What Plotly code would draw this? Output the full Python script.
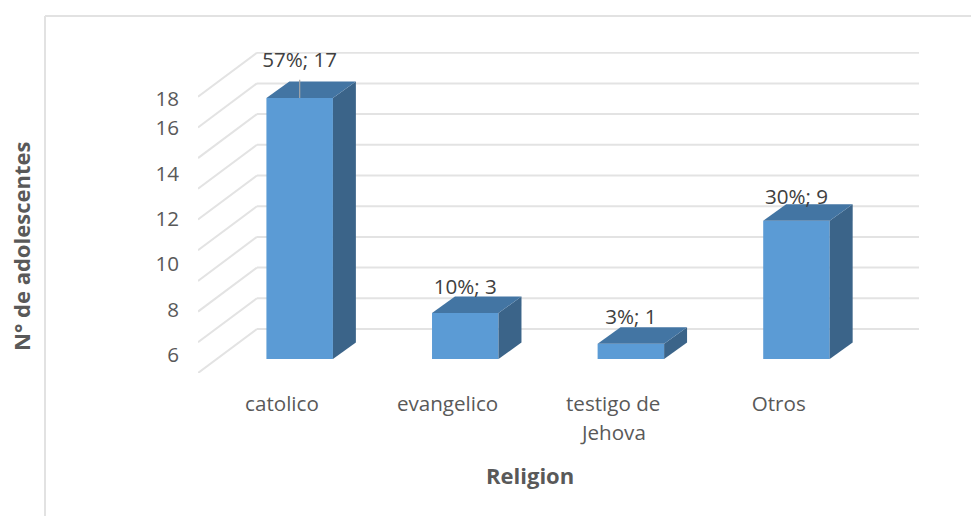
import plotly.graph_objects as go

categories = ["catolico", "evangelico", "testigo de", "Otros"]
category_second_line = ["", "", "Jehova", ""]
values = [17, 3, 1, 9]
shares = ["57%", "10%", "3%", "30%"]
label_lift = [2.35, 1.56, 1.63, 1.43]

grid_values = [0, 2, 4, 6, 8, 10, 12, 14, 16, 18]
tick_text = ["6", "8", "10", "12", "14", "16", "18"]
tick_pos = [0.26, 3.19, 6.19, 9.12, 12.05, 15.05, 16.94]

FONT = "Open Sans"
TEXT = "#595959"
GRID = "#E3E3E3"
FRONT = "#5B9BD5"
TOP = "#4375A3"
SIDE = "#3B6489"

W, H = 972, 516
L, R, T, B = 198, 919, 52, 373
XR = [-0.614, 3.740]
YR = [-0.912, 20.0]
BAR_W = 0.4016
DX, DY = 0.1386, 1.075      # bar depth
WALL_DX, WALL_DY = 0.356, 2.866  # floor depth
LABEL_SHIFT = 0.107


def px(x):
    return (x - L) / (R - L)


def py(y):
    return 1 - (y - T) / (B - T)


x = list(range(len(values)))
fig = go.Figure()

fig.add_trace(go.Bar(x=x, y=values, width=BAR_W, marker=dict(color=FRONT, line=dict(width=0)),
                     showlegend=False, hoverinfo="skip"))

for xi, v in zip(x, values):
    xr = xi + BAR_W / 2
    xl = xi - BAR_W / 2
    fig.add_trace(go.Scatter(x=[xr, xr + DX, xr + DX, xr, xr], y=[0, DY, v + DY, v, 0],
                             mode="lines", fill="toself", fillcolor=SIDE, line=dict(width=0),
                             showlegend=False, hoverinfo="skip"))
    fig.add_trace(go.Scatter(x=[xl, xl + DX, xr + DX, xr, xl], y=[v, v + DY, v + DY, v, v],
                             mode="lines", fill="toself", fillcolor=TOP, line=dict(width=0),
                             showlegend=False, hoverinfo="skip"))

# leader line of the first label
fig.add_trace(go.Scatter(x=[x[0], x[0]], y=[values[0], values[0] + 1.2], mode="lines",
                         line=dict(color="#A6A6A6", width=1.2), showlegend=False, hoverinfo="skip"))

fig.add_trace(go.Scatter(
    x=x, y=[v + l for v, l in zip(values, label_lift)],
    text=[f"{s}; {v}" for s, v in zip(shares, values)],
    mode="text", textposition="middle center", cliponaxis=False,
    textfont=dict(family=FONT, size=20.6, color="#404040"),
    showlegend=False, hoverinfo="skip"))

shapes = []
for v in grid_values:
    back = v + WALL_DY + YR[0]
    shapes.append(dict(type="line", layer="below", x0=XR[0], x1=XR[0] + WALL_DX, y0=v + YR[0], y1=back,
                       xref="x", yref="y", line=dict(color=GRID, width=2)))
    shapes.append(dict(type="line", layer="below", x0=XR[0] + WALL_DX, x1=XR[1], y0=back, y1=back,
                       xref="x", yref="y", line=dict(color=GRID, width=2)))
# chart frame
shapes.append(dict(type="line", layer="below", xref="paper", yref="paper", x0=px(45), x1=px(971),
                   y0=py(16), y1=py(16), line=dict(color="#E2E2E2", width=2)))
shapes.append(dict(type="line", layer="below", xref="paper", yref="paper", x0=px(45), x1=px(45),
                   y0=py(16), y1=py(516), line=dict(color="#E2E2E2", width=2)))

annotations = [
    dict(text="<b>Religion</b>", x=px(530), y=py(475), xref="paper", yref="paper", showarrow=False,
         xanchor="center", yanchor="middle", font=dict(family=FONT, size=22, color=TEXT)),
    dict(text="<b>N° de adolescentes</b>", x=px(21), y=py(247), xref="paper", yref="paper", showarrow=False,
         xanchor="center", yanchor="middle", textangle=-90, font=dict(family=FONT, size=22, color=TEXT)),
]
for xi, second in zip(x, category_second_line):
    if second:
        annotations.append(dict(text=second, x=xi - LABEL_SHIFT, y=py(432), xref="x", yref="paper",
                                showarrow=False, xanchor="center", yanchor="middle",
                                font=dict(family=FONT, size=20.6, color=TEXT)))

fig.update_layout(
    width=W, height=H, autosize=False,
    margin=dict(l=L, r=W - R, t=T, b=H - B),
    paper_bgcolor="white", plot_bgcolor="white",
    showlegend=False, shapes=shapes, annotations=annotations,
    xaxis=dict(range=XR, tickmode="array", tickvals=[xi - LABEL_SHIFT for xi in x], ticktext=categories,
               showgrid=False, zeroline=False, showline=False, ticks="", ticklabelstandoff=16,
               tickfont=dict(family=FONT, size=20.6, color=TEXT)),
    yaxis=dict(range=YR, tickmode="array", tickvals=tick_pos, ticktext=tick_text,
               showgrid=False, zeroline=False, showline=False, ticks="", ticklabelstandoff=18,
               tickfont=dict(family=FONT, size=20.6, color=TEXT)),
)

fig.write_html("out.html", config=dict(displayModeBar=False),
               post_script="document.body.style.margin='0';document.documentElement.style.overflow='hidden';")
